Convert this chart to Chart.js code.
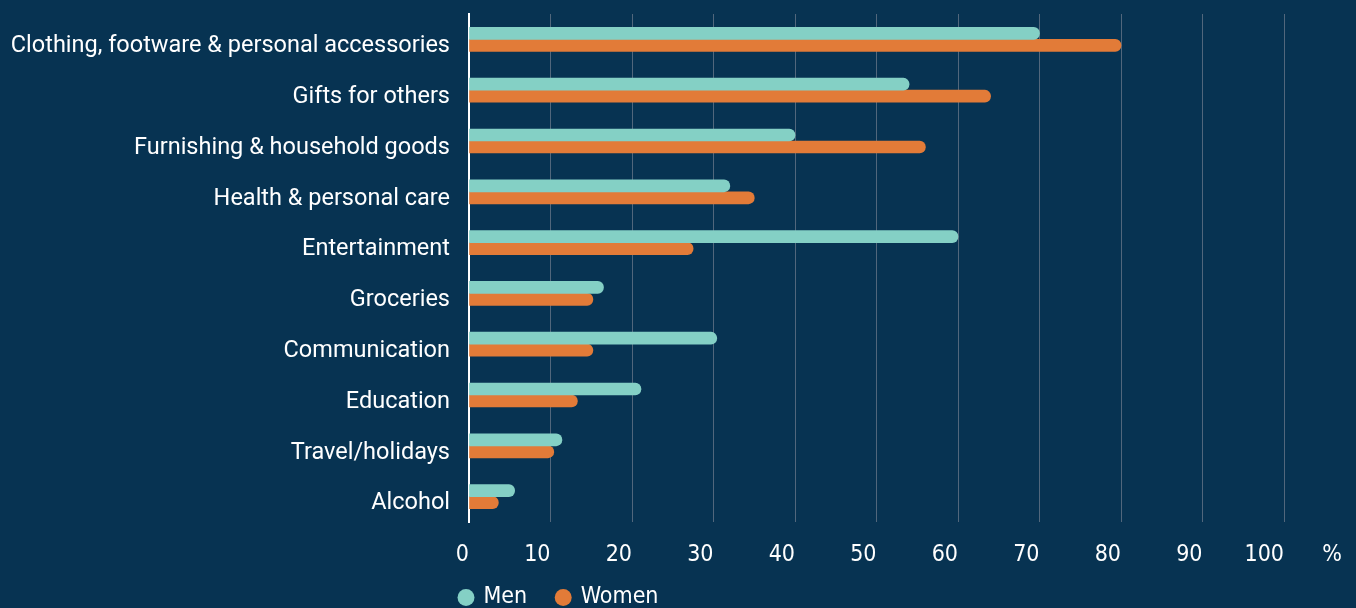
<!DOCTYPE html>
<html>
<head>
<meta charset="utf-8">
<title>Spending by category</title>
<script src="https://cdn.jsdelivr.net/npm/chart.js@4.4.1/dist/chart.umd.min.js"></script>
<style>
  html, body { margin: 0; padding: 0; background: #073352; }
  #wrap { width: 1356px; height: 608px; }
</style>
</head>
<body>
<div id="wrap"><canvas id="chart"></canvas></div>
<script>
const categories = [
    "Clothing, footware & personal accessories",
    "Gifts for others",
    "Furnishing & household goods",
    "Health & personal care",
    "Entertainment",
    "Groceries",
    "Communication",
    "Education",
    "Travel/holidays",
    "Alcohol"
];
const men = [70, 54, 40, 32, 60, 16.5, 30.4, 21.1, 11.4, 5.6];
const women = [80, 64, 56, 35, 27.5, 15.2, 15.2, 13.3, 10.4, 3.6];
const seriesNames = ["Men", "Women"];
const xMin = 0, xMax = 100, xStep = 10;
const unitLabel = "%";

const TEAL = "#84d0c5";
const ORANGE = "#e27b38";
const NARROW = "'Liberation Sans Narrow', 'DejaVu Sans Condensed', Roboto, sans-serif";
const tickFont = { family: NARROW, size: 23 };
const legendPad = 30;

// "%" sits to the right of the last x tick
const unitPlugin = {
    id: "unitLabel",
    afterDraw(chart) {
        const x = chart.scales.x;
        const ctx = chart.ctx;
        ctx.save();
        ctx.font = tickFont.size + "px " + NARROW;
        ctx.fillStyle = "#ffffff";
        ctx.textAlign = "right";
        ctx.textBaseline = "middle";
        ctx.fillText(unitLabel, x.right + 58, x.top + x.options.ticks.padding + tickFont.size * 0.6);
        ctx.restore();
    }
};

// put the legend under the axis, near the bottom edge
const legendShift = {
    id: "legendShift",
    afterLayout(chart) {
        const lg = chart.legend;
        const w = lg.right - lg.left;
        lg.left = 460 - legendPad;
        lg.right = lg.left + w;
        lg.top = 598 - legendPad - 12;
        lg.bottom = chart.height;
    }
};

new Chart(document.getElementById("chart"), {
    type: "bar",
    data: {
        labels: categories,
        datasets: [{
            label: seriesNames[0],
            data: men,
            backgroundColor: TEAL
        }, {
            label: seriesNames[1],
            data: women,
            backgroundColor: ORANGE
        }]
    },
    options: {
        indexAxis: "y",
        responsive: true,
        maintainAspectRatio: false,
        animation: false,
        layout: { padding: { top: 14, right: 72, left: 0, bottom: 0 } },
        datasets: {
            bar: {
                barThickness: 12,
                borderRadius: 6,
                borderSkipped: "start"
            }
        },
        scales: {
            x: {
                min: xMin,
                max: xMax,
                ticks: {
                    stepSize: xStep,
                    color: "#ffffff",
                    font: tickFont,
                    align: "end",
                    padding: 19
                },
                grid: { color: "#51677c", lineWidth: 1, drawTicks: false },
                border: { display: false },
                afterFit: (s) => { s.height = 56; }
            },
            y: {
                grid: { display: false, drawTicks: false },
                border: { color: "#ffffff", width: 2 },
                ticks: {
                    color: "#ffffff",
                    font: { family: "Roboto, sans-serif", size: 23.5 },
                    padding: 19,
                    labelOffset: 7
                },
                afterFit: (s) => {
                    s.width = 469;
                    s.paddingTop = 0;
                    s.paddingBottom = 0;
                }
            }
        },
        plugins: {
            tooltip: { enabled: false },
            legend: {
                position: "bottom",
                align: "start",
                maxHeight: 30,
                labels: {
                    color: "#ffffff",
                    font: { family: NARROW, size: 23 },
                    usePointStyle: true,
                    pointStyle: "circle",
                    boxWidth: 12,
                    boxHeight: 12,
                    padding: legendPad
                }
            }
        }
    },
    plugins: [unitPlugin, legendShift]
});
</script>
</body>
</html>
